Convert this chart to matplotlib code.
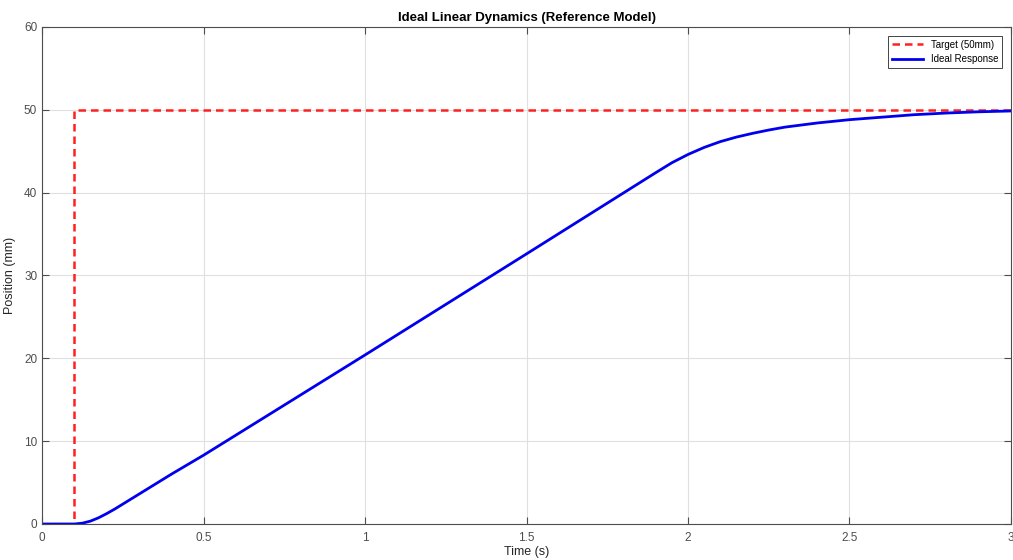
import matplotlib.pyplot as plt

plt.rcParams['font.family'] = ['Liberation Sans', 'DejaVu Sans']

# target step
t_target = [0, 0.1, 0.1, 3.0]
y_target = [0, 0, 50, 50]

# ideal response
t_resp = [0, 0.1, 0.125, 0.15, 0.175, 0.2, 0.225, 0.25, 0.3, 0.35, 0.4, 0.5, 1.0, 1.5,
          1.9, 1.95, 2.0, 2.05, 2.1, 2.15, 2.2, 2.25, 2.3, 2.4, 2.5, 2.6, 2.7, 2.8, 2.9, 3.0]
y_resp = [0, 0, 0.1, 0.35, 0.75, 1.25, 1.8, 2.4, 3.6, 4.8, 6.0, 8.3, 20.4, 32.6,
          42.4, 43.6, 44.6, 45.45, 46.15, 46.7, 47.15, 47.55, 47.9, 48.4, 48.8, 49.1, 49.4, 49.6, 49.75, 49.85]

fig = plt.figure(figsize=(10.13, 5.6), dpi=100)
ax = fig.add_axes([0.0415, 0.0643, 0.9565, 0.8877])

ax.plot(t_target, y_target, '--', color='#ff2020', lw=1.8, label='Target (50mm)', dashes=(3, 2))
ax.plot(t_resp, y_resp, '-', color='#0000ee', lw=2.0, label='Ideal Response')

ax.set_xlim(0, 3)
ax.set_ylim(0, 60)
ax.set_xticks([0, 0.5, 1, 1.5, 2, 2.5, 3])
ax.set_xticklabels(['0', '0.5', '1', '1.5', '2', '2.5', '3'])
ax.set_yticks([0, 10, 20, 30, 40, 50, 60])
ax.grid(True, color='#e0e0e0', lw=0.8)
ax.set_axisbelow(True)
ax.tick_params(direction='in', top=True, right=True, length=5, labelsize=8.5,
               colors='#4d4d4d', width=0.8)
ax.tick_params(axis='x', pad=6)
for s in ax.spines.values():
    s.set_color('#4d4d4d')
    s.set_linewidth(0.8)

ax.set_title('Ideal Linear Dynamics (Reference Model)', fontsize=9.5, fontweight='bold', pad=4)
ax.set_xlabel('Time (s)', fontsize=9, color='#262626', labelpad=1)
ax.set_ylabel('Position (mm)', fontsize=9, color='#262626', labelpad=6)

leg = ax.legend(loc='upper right', fontsize=7, fancybox=False, framealpha=1,
                edgecolor='#262626', handlelength=3.2, borderaxespad=0.9)
leg.get_frame().set_linewidth(0.6)

fig.savefig('out.png')
